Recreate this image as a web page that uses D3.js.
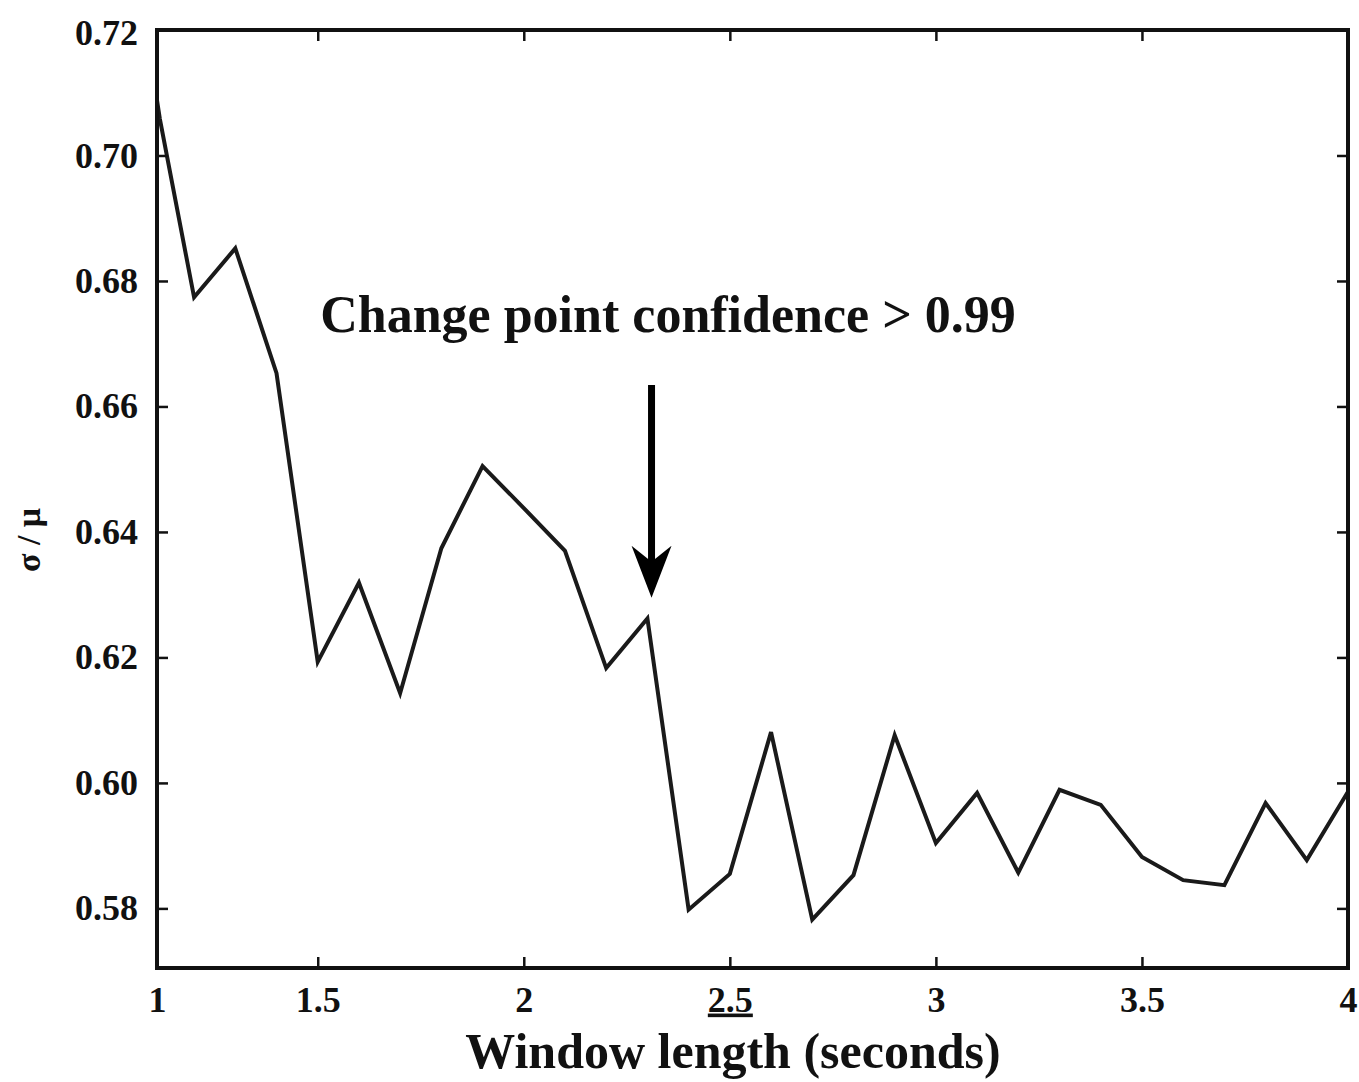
<!DOCTYPE html>
<html>
<head>
<meta charset="utf-8">
<script src="https://cdn.jsdelivr.net/npm/d3@7"></script>
<style>
  html, body { margin: 0; padding: 0; background: #fff; }
  svg { display: block; }
  text { font-family: "Liberation Serif", "DejaVu Serif", serif; fill: #111; }
</style>
</head>
<body>
<svg id="chart" width="1359" height="1082"></svg>
<script>
// ---- data ----
const windowLength = [1.11, 1.117, 1.2, 1.3, 1.4, 1.5, 1.6, 1.7, 1.8, 1.9, 2.0, 2.1, 2.2, 2.3, 2.4, 2.5, 2.6, 2.7, 2.8, 2.9, 3.0, 3.1, 3.2, 3.3, 3.4, 3.5, 3.6, 3.7, 3.8, 3.9, 4.0];
const sigmaOverMu = [0.7088, 0.7058, 0.6774, 0.6852, 0.6653, 0.6193, 0.6319, 0.6143, 0.6374, 0.6505, 0.6438, 0.6370, 0.6183, 0.6262, 0.5798, 0.5855, 0.6081, 0.5782, 0.5853, 0.6076, 0.5904, 0.5984, 0.5857, 0.5989, 0.5965, 0.5882, 0.5845, 0.5837, 0.5968, 0.5877, 0.5986];
const xTickValues = [1.11, 1.5, 2, 2.5, 3, 3.5, 4];
const xTickLabels = ["1", "1.5", "2", "2.5", "3", "3.5", "4"];
const yTickValues = [0.58, 0.60, 0.62, 0.64, 0.66, 0.68, 0.70, 0.72];
const yTickLabels = ["0.58", "0.60", "0.62", "0.64", "0.66", "0.68", "0.70", "0.72"];
const xDomain = [1.11, 4.0];
const yDomain = [0.5705, 0.72];
const annotationText = "Change point confidence > 0.99";
const arrowX = 2.31;
const arrowFrom = 0.6634, arrowTo = 0.6295;
const xTitle = "Window length (seconds)";
const yTitle = "σ / μ";

// ---- layout ----
const L = 157, R = 1348, T = 30, B = 968;
const svg = d3.select("#chart");
const x = d3.scaleLinear().domain(xDomain).range([L, R]);
const y = d3.scaleLinear().domain(yDomain).range([B, T]);

svg.append("defs").append("clipPath").attr("id", "clip")
  .append("rect").attr("x", L).attr("y", T).attr("width", R - L).attr("height", B - T);

// line
const line = d3.line().x((d, i) => x(windowLength[i])).y(d => y(d));
svg.append("path")
  .datum(sigmaOverMu)
  .attr("clip-path", "url(#clip)")
  .attr("fill", "none")
  .attr("stroke", "#1a1a1a")
  .attr("stroke-width", 4)
  .attr("stroke-linejoin", "miter")
  .attr("d", line);

// axes (ticks inward)
const tickLen = 11;
const fmtX = d => xTickLabels[xTickValues.indexOf(d)];
const fmtY = d => yTickLabels[yTickValues.indexOf(d)];

const xAxisB = svg.append("g").attr("transform", `translate(0,${B})`)
  .call(d3.axisBottom(x).tickValues(xTickValues).tickFormat(fmtX).tickSizeInner(-tickLen).tickSizeOuter(0).tickPadding(18));
const xAxisT = svg.append("g").attr("transform", `translate(0,${T})`)
  .call(d3.axisTop(x).tickValues(xTickValues.slice(1, -1)).tickFormat("").tickSizeInner(-tickLen).tickSizeOuter(0));
const yAxisL = svg.append("g").attr("transform", `translate(${L},0)`)
  .call(d3.axisLeft(y).tickValues(yTickValues).tickFormat(fmtY).tickSizeInner(-tickLen).tickSizeOuter(0).tickPadding(19));
const yAxisR = svg.append("g").attr("transform", `translate(${R},0)`)
  .call(d3.axisRight(y).tickValues(yTickValues.slice(0, -1)).tickFormat("").tickSizeInner(-tickLen).tickSizeOuter(0));

[xAxisB, xAxisT, yAxisL, yAxisR].forEach(g => {
  g.select(".domain").remove();
  g.selectAll(".tick line").attr("stroke", "#111").attr("stroke-width", 2.5);
  g.selectAll("text").attr("font-size", 36).attr("font-weight", "bold")
    .attr("font-family", '"Liberation Serif", serif').attr("fill", "#111");
});
xAxisB.selectAll(".tick").filter(d => d === xTickValues[0]).select("line").remove();
xAxisB.selectAll(".tick").filter(d => d === xTickValues[xTickValues.length - 1]).select("line").remove();
yAxisL.selectAll(".tick").filter(d => d === yTickValues[yTickValues.length - 1]).select("line").remove();
xAxisB.selectAll("text").attr("dy", "0.71em");
xAxisB.selectAll(".tick").filter(d => d === 2.5).select("text").attr("text-decoration", "underline");
yAxisL.selectAll(".tick").filter(d => d === 0.72).select("text").attr("dy", "0.4em");

// frame
svg.append("rect").attr("x", L).attr("y", T).attr("width", R - L).attr("height", B - T)
  .attr("fill", "none").attr("stroke", "#111").attr("stroke-width", 4);

// axis titles
svg.append("text").attr("x", 733).attr("y", 1068)
  .attr("text-anchor", "middle").attr("font-size", 50).attr("font-weight", "bold")
  .text(xTitle);
svg.append("text").attr("transform", `translate(40,540) rotate(-90)`)
  .attr("text-anchor", "middle").attr("font-size", 34).attr("font-weight", "bold")
  .attr("font-family", '"DejaVu Sans", sans-serif')
  .text(yTitle);

// annotation
svg.append("text").attr("x", 668).attr("y", 332)
  .attr("text-anchor", "middle").attr("font-size", 52).attr("font-weight", "bold")
  .text(annotationText);

// arrow
const ax = x(arrowX);
const yTop = y(arrowFrom), yTip = y(arrowTo);
svg.append("line").attr("x1", ax).attr("x2", ax).attr("y1", yTop).attr("y2", yTip - 30)
  .attr("stroke", "#000").attr("stroke-width", 7);
svg.append("path")
  .attr("d", `M${ax},${yTip} L${ax - 20},${yTip - 52} L${ax},${yTip - 36} L${ax + 20},${yTip - 52} Z`)
  .attr("fill", "#000");
</script>
</body>
</html>
